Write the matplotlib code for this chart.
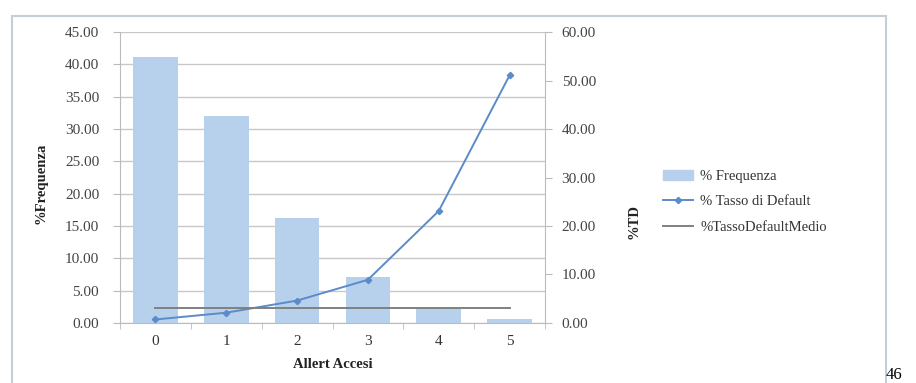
import matplotlib.pyplot as plt
from matplotlib.patches import Rectangle

plt.rcParams['font.family'] = ['Liberation Serif', 'DejaVu Serif']

allert = [0, 1, 2, 3, 4, 5]
frequenza = [41.1, 32.1, 16.3, 7.1, 2.3, 0.6]
tasso_default = [0.7, 2.1, 4.6, 8.9, 23.1, 51.1]
tasso_medio = 3.1

fig = plt.figure(figsize=(9.16, 3.83), dpi=100)
ax = fig.add_axes([0.131, 0.157, 0.464, 0.759])
ax2 = ax.twinx()

ax.bar(allert, frequenza, width=0.63, color='#B7D1EC', zorder=2)
ax.set_xlim(-0.5, 5.5)
ax.set_ylim(0, 45)
ax.set_yticks(range(0, 46, 5))
ax.set_yticklabels(['%.2f' % v for v in range(0, 46, 5)])
ax.yaxis.grid(True, color='#C8C8C8', linewidth=1.0, zorder=0)
ax.set_axisbelow(True)

line, = ax2.plot(allert, tasso_default, color='#5B8BC9', linewidth=1.4,
                 marker='D', markersize=3.2)
medio, = ax2.plot([allert[0], allert[-1]], [tasso_medio, tasso_medio],
                  color='#808080', linewidth=1.4)
ax2.set_ylim(0, 60)
ax2.set_yticks(range(0, 61, 10))
ax2.set_yticklabels(['%.2f' % v for v in range(0, 61, 10)])

# category ticks sit between the bars, labels at the centres
ax.set_xticks(allert)
ax.set_xticks([i + 0.5 for i in range(-1, 6)], minor=True)
ax.tick_params(axis='x', which='major', length=0, pad=9)
ax.tick_params(axis='x', which='minor', length=4, color='#BBBBBB')

for a in (ax, ax2):
    for s in a.spines.values():
        s.set_visible(False)
ax.spines['left'].set_visible(True)
ax.spines['left'].set_color('#BBBBBB')
ax.spines['bottom'].set_visible(True)
ax.spines['bottom'].set_color('#BBBBBB')
ax2.spines['right'].set_visible(True)
ax2.spines['right'].set_color('#BBBBBB')
ax.tick_params(axis='y', length=5, color='#BBBBBB', labelsize=11,
               labelcolor='#444444', pad=10)
ax2.tick_params(axis='y', length=5, color='#BBBBBB', labelsize=11,
                labelcolor='#444444', pad=7)
ax.tick_params(axis='x', labelsize=11, labelcolor='#333333')

ax.set_xlabel('Allert Accesi', fontsize=10.5, fontweight='bold', color='#222222')
ax.xaxis.set_label_coords(0.5, -0.12)
ax.set_ylabel('%Frequenza', fontsize=10.5, fontweight='bold', color='#222222')
ax.yaxis.set_label_coords(-0.17, 0.48)
ax2.set_ylabel('%TD', fontsize=10.5, fontweight='bold', color='#222222')
ax2.yaxis.set_label_coords(1.193, 0.347)

handles = [Rectangle((0, 0), 1, 1, color='#B7D1EC'), line, medio]
fig.legend(handles, ['% Frequenza', '% Tasso di Default', '%TassoDefaultMedio'],
           loc='center left', bbox_to_anchor=(0.709, 0.473), frameon=False,
           fontsize=10.5, handlelength=2.1, handletextpad=0.5, labelspacing=0.85,
           labelcolor='#333333')

# outer chart frame
fig.patches.append(Rectangle((0.013, -0.05), 0.954, 1.008, transform=fig.transFigure,
                             fill=False, edgecolor='#C5CDD6', linewidth=1.5))
fig.text(0.967, 0.0, '46', fontsize=12, color='black', ha='left', va='bottom')

fig.savefig('out.png', dpi=100)
